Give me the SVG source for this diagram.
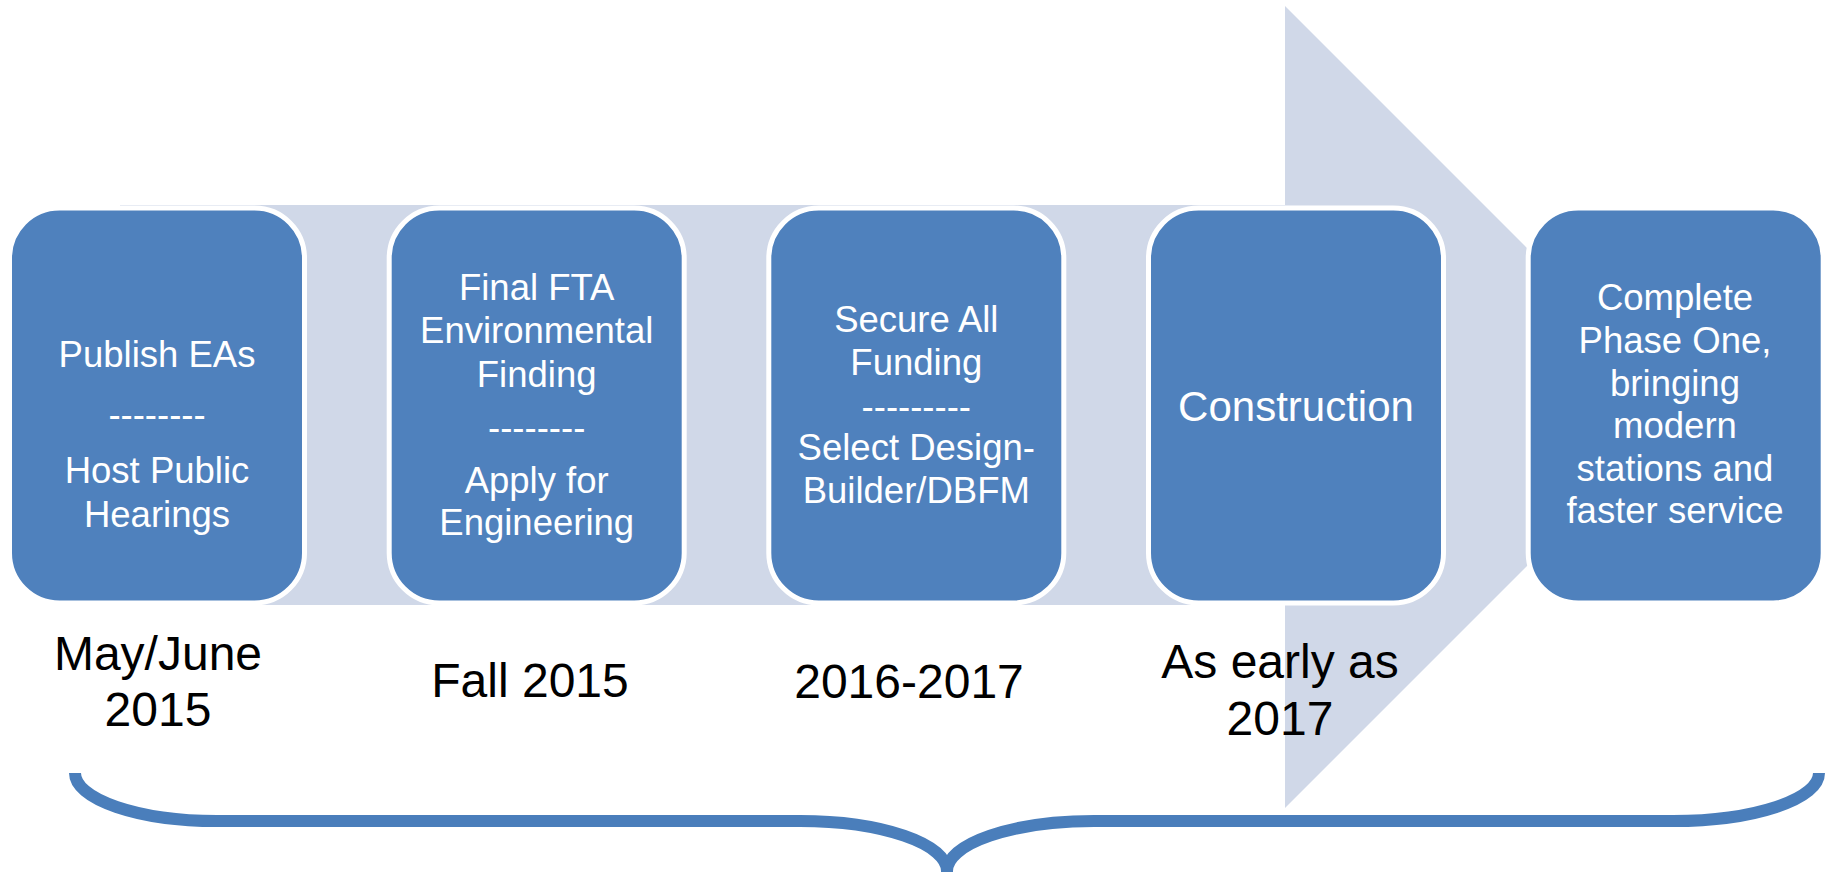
<svg xmlns="http://www.w3.org/2000/svg" width="1827" height="872" viewBox="0 0 1827 872">
  <style>
    .step { fill: #4f81bd; stroke: #ffffff; stroke-width: 5; }
    .step-text { font-family: "Liberation Sans", Arial, sans-serif; font-size: 36.5px; fill: #ffffff; text-anchor: middle; }
    .date { font-family: "Liberation Sans", Arial, sans-serif; font-size: 48px; fill: #000000; text-anchor: middle; }
    .brace { fill: none; stroke: #4a7ebb; stroke-width: 12; }
  </style>
  <rect width="1827" height="872" fill="#ffffff"/>

  <!-- background process arrow -->
  <g id="process-arrow">
    <path d="M 120 205 L 1285 205 L 1285 6 L 1686 407 L 1285 808 L 1285 605 L 120 605 Z" fill="#d0d8e8"/>
  </g>

  <!-- step boxes -->
  <g id="step-1">
    <rect class="step" x="9.5" y="208" width="295" height="395" rx="50" ry="50"/>
    <text class="step-text" x="157" y="367">Publish EAs</text>
    <text class="step-text" x="157" y="427">--------</text>
    <text class="step-text" x="157" y="483">Host Public</text>
    <text class="step-text" x="157" y="527">Hearings</text>
  </g>
  <g id="step-2">
    <rect class="step" x="389.2" y="208" width="295" height="395" rx="50" ry="50"/>
    <text class="step-text" x="536.7" y="300">Final FTA</text>
    <text class="step-text" x="536.7" y="343">Environmental</text>
    <text class="step-text" x="536.7" y="387">Finding</text>
    <text class="step-text" x="536.7" y="440">--------</text>
    <text class="step-text" x="536.7" y="493">Apply for</text>
    <text class="step-text" x="536.7" y="535">Engineering</text>
  </g>
  <g id="step-3">
    <rect class="step" x="768.8" y="208" width="295" height="395" rx="50" ry="50"/>
    <text class="step-text" x="916.3" y="332">Secure All</text>
    <text class="step-text" x="916.3" y="375">Funding</text>
    <text class="step-text" x="916.3" y="419">---------</text>
    <text class="step-text" x="916.3" y="460">Select Design-</text>
    <text class="step-text" x="916.3" y="503">Builder/DBFM</text>
  </g>
  <g id="step-4">
    <rect class="step" x="1148.5" y="208" width="295" height="395" rx="50" ry="50"/>
    <text class="step-text" x="1296" y="421" style="font-size:42px">Construction</text>
  </g>
  <g id="step-5">
    <rect class="step" x="1528.2" y="208" width="295" height="395" rx="50" ry="50"/>
    <text class="step-text" x="1675" y="310">Complete</text>
    <text class="step-text" x="1675" y="353">Phase One,</text>
    <text class="step-text" x="1675" y="396">bringing</text>
    <text class="step-text" x="1675" y="438">modern</text>
    <text class="step-text" x="1675" y="481">stations and</text>
    <text class="step-text" x="1675" y="523">faster service</text>
  </g>

  <!-- dates under the steps -->
  <g id="dates">
    <text class="date" x="158" y="670">May/June</text>
    <text class="date" x="158" y="726">2015</text>
    <text class="date" x="530" y="697">Fall 2015</text>
    <text class="date" x="909" y="698">2016-2017</text>
    <text class="date" x="1280" y="678">As early as</text>
    <text class="date" x="1280" y="735">2017</text>
  </g>

  <!-- curly brace spanning the timeline -->
  <g id="connectors">
    <path class="brace" d="M 75 773 A 142 48 0 0 0 217 821 L 800 821 A 147 50 0 0 1 947 871 L 947 880 M 947 871 A 147 50 0 0 1 1094 821 L 1673 821 A 146 48 0 0 0 1819 773"/>
  </g>
</svg>
